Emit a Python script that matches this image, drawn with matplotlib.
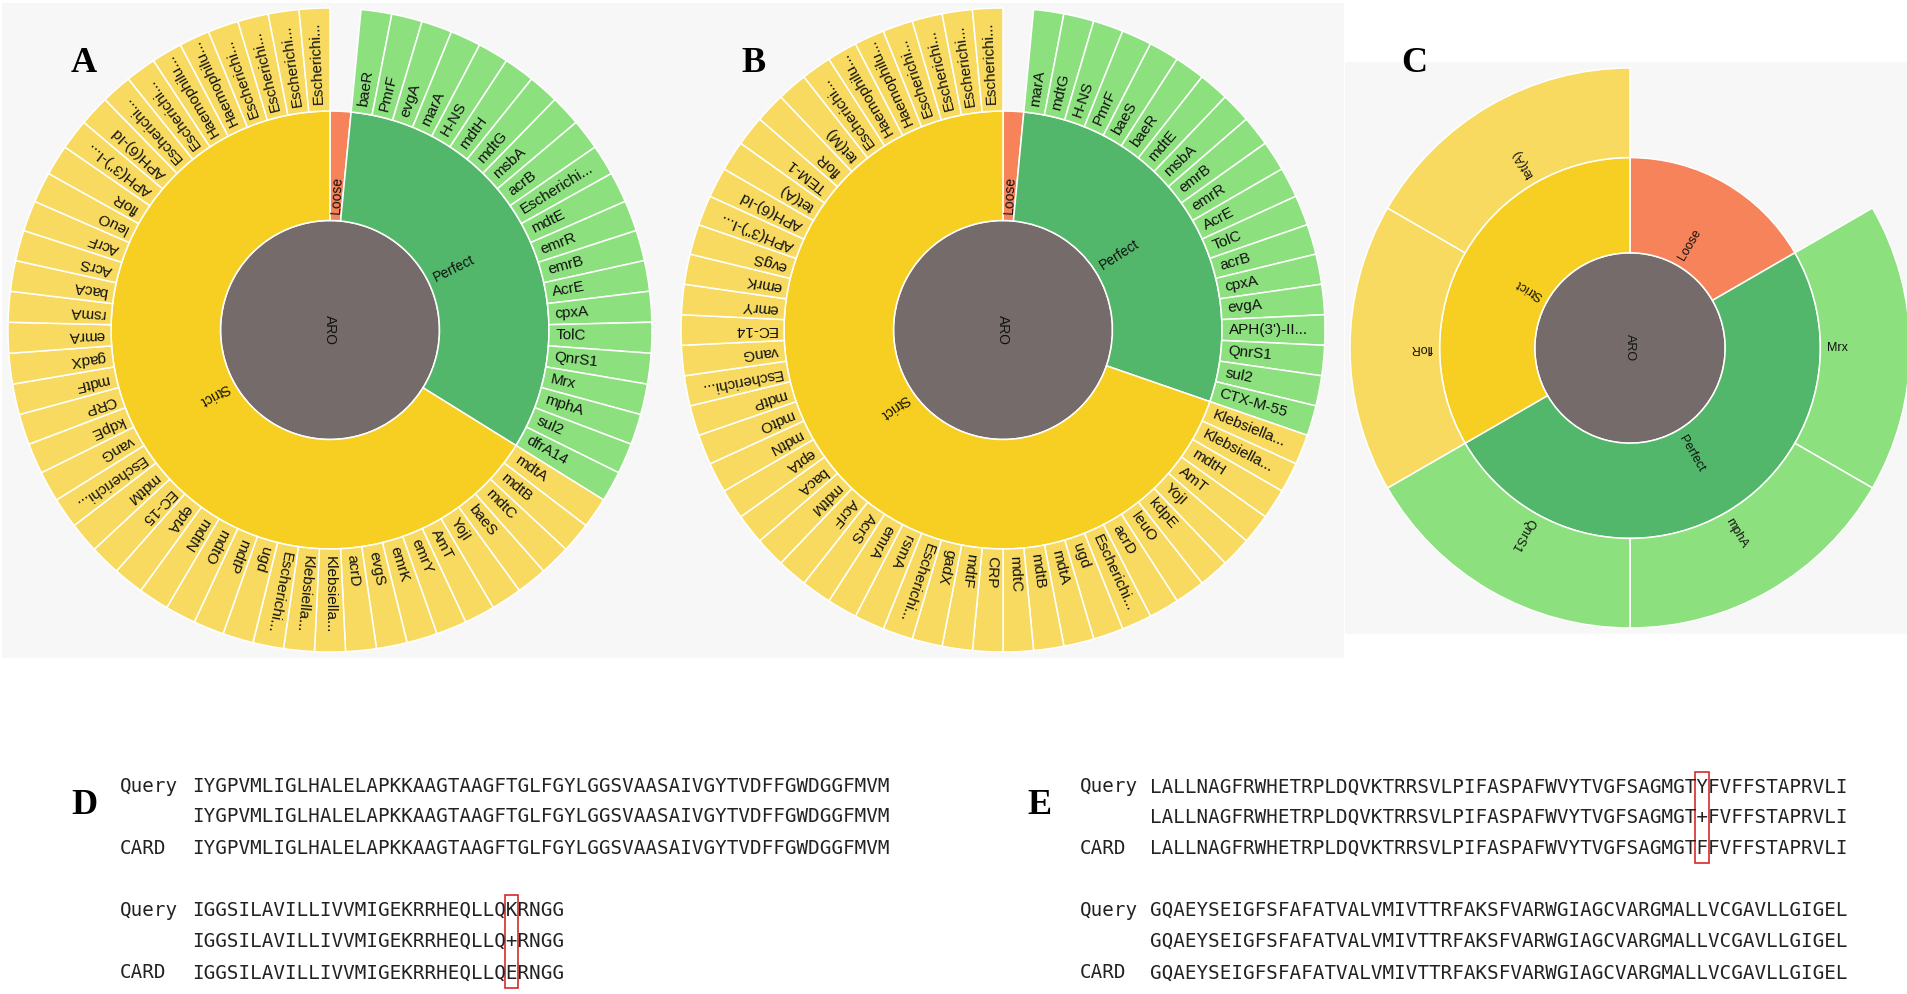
import numpy as np
import matplotlib
matplotlib.use("Agg")
import matplotlib.pyplot as plt
from matplotlib.patches import Rectangle

W, H = 1907, 994

# panel A - hits by cutoff, genes in outer ring (clockwise from 12 o'clock)
a_perfect = ["baeR", "PmrF", "evgA", "marA", "H-NS", "mdtH", "mdtG", "msbA", "acrB",
             "Escherichi...", "mdtE", "emrR", "emrB", "AcrE", "cpxA", "TolC", "QnrS1",
             "Mrx", "mphA", "sul2", "dfrA14"]
a_strict = ["mdtA", "mdtB", "mdtC", "baeS", "YojI", "AmT", "emrY", "emrK", "evgS", "acrD",
            "Klebsiella...", "Klebsiella...", "Escherichi...", "ugd", "mdtP", "mdtO", "mdtN",
            "eptA", "EC-15", "mdtM", "Escherichi...", "vanG", "kdpE", "CRP", "mdtF", "gadX",
            "emrA", "rsmA", "bacA", "AcrS", "AcrF", "leuO", "floR", "APH(3'')-I...",
            "APH(6)-Id", "Escherichi...", "Escherichi...", "Haemophilu...", "Haemophilu...",
            "Escherichi...", "Escherichi...", "Escherichi...", "Escherichi..."]

# panel B
b_perfect = ["marA", "mdtG", "H-NS", "PmrF", "baeS", "baeR", "mdtE", "msbA", "emrB", "emrR",
             "AcrE", "TolC", "acrB", "cpxA", "evgA", "APH(3')-II...", "QnrS1", "sul2",
             "CTX-M-55"]
b_strict = ["Klebsiella...", "Klebsiella...", "mdtH", "AmT", "YojI", "kdpE", "leuO", "acrD",
            "Escherichi...", "ugd", "mdtA", "mdtB", "mdtC", "CRP", "mdtF", "gadX",
            "Escherichi...", "rsmA", "emrA", "AcrS", "AcrF", "mdtM", "bacA", "eptA", "mdtN",
            "mdtO", "mdtP", "Escherichi...", "vanG", "EC-14", "emrY", "emrK", "evgS",
            "APH(3'')-I...", "APH(6)-Id", "tet(A)", "TEM-1", "floR", "tet(M)", "Escherichi...",
            "Haemophilu...", "Haemophilu...", "Escherichi...", "Escherichi...", "Escherichi...",
            "Escherichi..."]

# panel C
c_perfect = ["Mrx", "mphA", "QnrS1"]
c_strict = ["floR", "tet(A)"]

loose_hits = 1  # one loose hit, gene not shown in outer ring

# alignments
d_rows = [("Query", "IYGPVMLIGLHALELAPKKAAGTAAGFTGLFGYLGGSVAASAIVGYTVDFFGWDGGFMVM"),
          ("", "IYGPVMLIGLHALELAPKKAAGTAAGFTGLFGYLGGSVAASAIVGYTVDFFGWDGGFMVM"),
          ("CARD", "IYGPVMLIGLHALELAPKKAAGTAAGFTGLFGYLGGSVAASAIVGYTVDFFGWDGGFMVM"),
          ("Query", "IGGSILAVILLIVVMIGEKRRHEQLLQKRNGG"),
          ("", "IGGSILAVILLIVVMIGEKRRHEQLLQ+RNGG"),
          ("CARD", "IGGSILAVILLIVVMIGEKRRHEQLLQERNGG")]
e_rows = [("Query", "LALLNAGFRWHETRPLDQVKTRRSVLPIFASPAFWVYTVGFSAGMGTYFVFFSTAPRVLI"),
          ("", "LALLNAGFRWHETRPLDQVKTRRSVLPIFASPAFWVYTVGFSAGMGT+FVFFSTAPRVLI"),
          ("CARD", "LALLNAGFRWHETRPLDQVKTRRSVLPIFASPAFWVYTVGFSAGMGTFFVFFSTAPRVLI"),
          ("Query", "GQAEYSEIGFSFAFATVALVMIVTTRFAKSFVARWGIAGCVARGMALLVCGAVLLGIGEL"),
          ("", "GQAEYSEIGFSFAFATVALVMIVTTRFAKSFVARWGIAGCVARGMALLVCGAVLLGIGEL"),
          ("CARD", "GQAEYSEIGFSFAFATVALVMIVTTRFAKSFVARWGIAGCVARGMALLVCGAVLLGIGEL")]
d_mismatch = (3, 27)   # block row start, column
e_mismatch = (0, 47)

GRAY = "#756b6b"
STRICT, STRICT_L = "#f7cf22", "#f7da5f"
PERFECT, PERFECT_L = "#52b76a", "#8de07e"
LOOSE = "#f6835a"
BG = "#f7f7f7"

plt.rcParams["font.family"] = ["Liberation Sans", "DejaVu Sans"]

fig = plt.figure(figsize=(W / 100, H / 100), dpi=100)

# background panels
bg = fig.add_axes([0, 0, 1, 1])
bg.set_xlim(0, W)
bg.set_ylim(H, 0)
bg.axis("off")
bg.add_patch(Rectangle((2, 3), 1342, 655, color=BG, lw=0))
bg.add_patch(Rectangle((1345, 62), 562, 572, color=BG, lw=0))


def sunburst(cx, cy, r, perfect, strict, fs, fs_out):
    m = 1.02
    ax = fig.add_axes([(cx - r * m) / W, 1 - (cy + r * m) / H, 2 * m * r / W, 2 * m * r / H])
    ax.set_facecolor("none")
    r0, r1 = 0.34, 0.68
    pad = 7 / r
    ep = dict(edgecolor="white", linewidth=1.1)

    ax.pie([1], radius=r0, colors=[GRAY], wedgeprops=ep)
    ax.text(0, 0, "ARO", rotation=-90, ha="center", va="center", fontsize=fs, color="#111")

    mid_vals = [loose_hits, len(perfect), len(strict)]
    mid_lab = ["Loose", "Perfect", "Strict"]
    wm, _ = ax.pie(mid_vals, radius=r1, startangle=90, counterclock=False,
                   colors=[LOOSE, PERFECT, STRICT], wedgeprops=dict(width=r1 - r0, **ep))
    for w, lab in zip(wm, mid_lab):
        a = np.deg2rad((w.theta1 + w.theta2) / 2)
        rot = ((np.rad2deg(a) + 180) % 360) - 180
        ax.text((r0 + pad) * np.cos(a), (r0 + pad) * np.sin(a), lab, rotation=rot,
                rotation_mode="anchor", ha="left", va="center", fontsize=fs, color="#111")

    genes = [""] * loose_hits + perfect + strict
    cols = ["none"] * loose_hits + [PERFECT_L] * len(perfect) + [STRICT_L] * len(strict)
    wo, _ = ax.pie([1] * len(genes), radius=1, startangle=90, counterclock=False,
                   colors=cols, wedgeprops=dict(width=1 - r1, **ep))
    for w, lab in zip(wo, genes):
        if not lab:
            w.set_visible(False)
            continue
        a = np.deg2rad((w.theta1 + w.theta2) / 2)
        rot = ((np.rad2deg(a) + 180) % 360) - 180
        ax.text((r1 + pad) * np.cos(a), (r1 + pad) * np.sin(a), lab, rotation=rot,
                rotation_mode="anchor", ha="left", va="center", fontsize=fs_out, color="#111")
    ax.set_xlim(-m, m)
    ax.set_ylim(-m, m)
    ax.set_aspect("equal")
    ax.axis("off")


sunburst(330, 330, 322, a_perfect, a_strict, 10, 11)
sunburst(1003, 330, 322, b_perfect, b_strict, 10, 11)
sunburst(1630, 348, 280, c_perfect, c_strict, 9, 9)

top = fig.add_axes([0, 0, 1, 1])
top.set_xlim(0, W)
top.set_ylim(H, 0)
top.axis("off")
top.set_facecolor("none")

for lab, x, y in [("A", 84, 64), ("B", 754, 64), ("C", 1414, 64), ("D", 84, 806), ("E", 1040, 806)]:
    top.text(x, y, lab, family=["Liberation Serif", "DejaVu Serif"], weight="bold",
             fontsize=26, ha="center", va="center")

# alignment blocks
fs_seq = 13.9
cw = 0.6021 * fs_seq * 100 / 72
row_y = [787, 817, 848, 910, 941, 973]


def alignment(rows, x_lab, x_seq, mm):
    for (name, seq), y in zip(rows, row_y):
        top.text(x_lab, y, name, family="DejaVu Sans Mono", fontsize=fs_seq, ha="left",
                 va="center", color="#222")
        top.text(x_seq, y, seq, family="DejaVu Sans Mono", fontsize=fs_seq, ha="left",
                 va="center", color="#222")
    r, c = mm
    x = x_seq + c * cw
    y0 = row_y[r] - 15
    y1 = row_y[r + 2] + 15
    top.add_patch(Rectangle((x - 1, y0), cw + 2, y1 - y0, fill=False, ec="#d62a2a", lw=1.2))


alignment(d_rows, 120, 192, d_mismatch)
alignment(e_rows, 1080, 1150, e_mismatch)

fig.savefig("out.png", dpi=100)
